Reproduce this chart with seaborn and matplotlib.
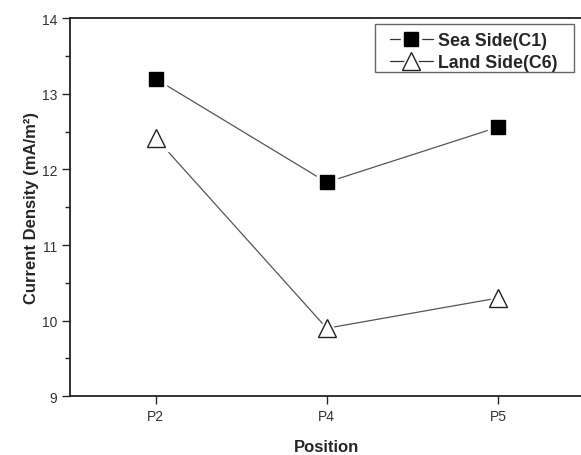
import matplotlib
matplotlib.use("Agg")
import matplotlib.pyplot as plt
import seaborn as sns
import pandas as pd
from matplotlib.lines import Line2D
from matplotlib.patches import Rectangle
from matplotlib.legend_handler import HandlerTuple
from matplotlib.ticker import MultipleLocator

# data
positions = ["P2", "P4", "P5"]
sea_side = [13.20, 11.83, 12.56]
land_side = [12.42, 9.90, 10.30]
series_names = ["Sea Side(C1)", "Land Side(C6)"]

sns.set_style("ticks")
plt.rcParams["font.family"] = ["Liberation Sans", "DejaVu Sans"]

idx = list(range(len(positions)))
df = pd.DataFrame({
    "idx": idx * 2,
    "value": sea_side + land_side,
    "series": [series_names[0]] * len(idx) + [series_names[1]] * len(idx),
})

fig = plt.figure(figsize=(5.81, 4.56), dpi=100)
ax = fig.add_axes([70 / 581, 58.7 / 456, 513.5 / 581, 378 / 456])

sns.lineplot(data=df, x="idx", y="value", hue="series",
             palette=["#555555", "#555555"], linewidth=0.9,
             legend=False, ax=ax, zorder=2)

# white halos so the lines stop short of the markers, Origin style
styles = {
    series_names[0]: dict(marker="s", ms=10, mfc="black", mec="black", mew=1.0),
    series_names[1]: dict(marker="^", ms=13, mfc="white", mec="#222222", mew=1.0),
}
halo_extra = {series_names[0]: 4.5, series_names[1]: 5.5}
handles = []
for name in series_names:
    sub = df[df["series"] == name]
    st = styles[name]
    halo_ms = st["ms"] + halo_extra[name]
    ax.plot(sub["idx"], sub["value"], ls="none", marker=st["marker"],
            ms=halo_ms, mfc="white", mec="white", zorder=3)
    ax.plot(sub["idx"], sub["value"], ls="none", zorder=4, **st)
    h_line = Line2D([], [], color="#333333", lw=0.9)
    h_halo = Line2D([], [], ls="none", marker=st["marker"], ms=halo_ms,
                    mfc="white", mec="white")
    h_mark = Line2D([], [], ls="none", **st)
    handles.append((h_line, h_halo, h_mark))

ax.set_xlim(-0.5, 2.5)
ax.set_ylim(9, 14)
ax.set_xticks(idx)
ax.set_xticklabels(positions)
ax.yaxis.set_major_locator(MultipleLocator(1))
ax.yaxis.set_minor_locator(MultipleLocator(0.5))

ax.tick_params(axis="both", which="major", direction="out", length=6,
               width=1.0, labelsize=10, labelcolor="#333333", pad=3)
ax.tick_params(axis="y", which="minor", direction="out", length=3.5, width=1.0)
ax.tick_params(top=False, right=False)
for s in ax.spines.values():
    s.set_linewidth(1.3)
    s.set_color("#222222")

ax.set_xlabel("Position", fontsize=12, fontweight="bold", labelpad=12)
ax.set_ylabel("Current Density (mA/m²)", fontsize=12, fontweight="bold",
              labelpad=2.5)

leg = ax.legend(handles, series_names, handler_map={tuple: HandlerTuple(ndivide=1)},
                loc="upper left", bbox_to_anchor=(390 / 581, 1 - 33 / 456),
                bbox_transform=fig.transFigure, borderaxespad=0, borderpad=0,
                frameon=False, handlelength=2.4,
                prop={"weight": "bold", "size": 12.8}, labelspacing=0.3,
                handletextpad=0.3)
# legend frame drawn separately (Origin uses wide side padding)
fig.patches.append(Rectangle((375 / 581, 1 - 73 / 456), 199 / 581, 48 / 456,
                             transform=fig.transFigure, fill=False,
                             edgecolor="#666666", linewidth=1.0, zorder=5))

fig.savefig("out.png", dpi=100)
